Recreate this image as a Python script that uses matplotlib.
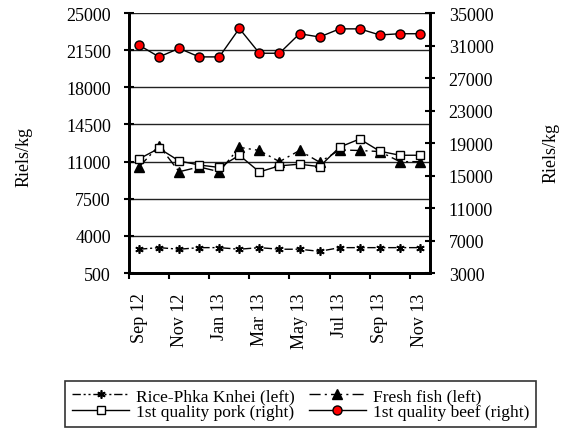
import numpy as np
import matplotlib.pyplot as plt

plt.rcParams['font.family'] = ['Liberation Serif', 'DejaVu Serif']

months = ['Sep 12', 'Oct 12', 'Nov 12', 'Dec 12', 'Jan 13', 'Feb 13', 'Mar 13', 'Apr 13',
          'May 13', 'Jun 13', 'Jul 13', 'Aug 13', 'Sep 13', 'Oct 13', 'Nov 13']

rice = [2750, 2900, 2750, 2900, 2900, 2750, 2900, 2750, 2750, 2550, 2900, 2900, 2900, 2900, 2900]
fish = [10500, 12500, 10050, 10500, 10050, 12350, 12050, 11000, 12050, 10950, 12100, 12050, 11950, 11000, 11000]
pork = [17050, 18350, 16800, 16300, 16000, 17500, 15450, 16200, 16400, 16100, 18500, 19500, 18000, 17500, 17500]
beef = [31050, 29600, 30650, 29600, 29600, 33100, 30050, 30050, 32450, 32050, 33050, 33050, 32300, 32450, 32450]

left_ticks = [500, 4000, 7500, 11000, 14500, 18000, 21500, 25000]
right_ticks = [3000, 7000, 11000, 15000, 19000, 23000, 27000, 31000, 35000]

x = np.arange(len(months))
FS = 13

fig = plt.figure(figsize=(5.62, 4.31), dpi=100)
ax1 = fig.add_axes([0.2295, 0.364, 0.5355, 0.6035])
ax2 = ax1.twinx()

# gridlines on the left scale
for v in left_ticks:
    ax1.axhline(v, color='#222222', lw=1.0, zorder=0)

l_rice, = ax1.plot(x, rice, color='black', lw=1.0, ls=(0, (6, 2, 1.5, 2, 1.5, 2)),
                   marker=(6, 2, 0), ms=6, mew=1.2, label='Rice-Phka Knhei (left)')
l_fish, = ax1.plot(x, fish, color='black', lw=1.0, ls=(0, (8, 3, 1.5, 3)),
                   marker='^', ms=6.5, label='Fresh fish (left)')
l_pork, = ax2.plot(x, pork, color='black', lw=1.0, marker='s', ms=6,
                   mfc='white', mec='black', mew=1.0, label='1st quality pork (right)')
l_beef, = ax2.plot(x, beef, color='black', lw=1.0, marker='o', ms=6.5,
                   mfc='red', mec='black', mew=1.0, label='1st quality beef (right)')

ax1.set_xlim(-0.5, 14.5)
ax1.set_ylim(500, 25000)
ax2.set_ylim(3000, 35000)
ax1.set_yticks(left_ticks)
ax2.set_yticks(right_ticks)

ax1.set_xticks(np.arange(-0.5, 15, 2))
ax1.set_xticklabels([])
ax1.set_xticks(x[::2], minor=True)
ax1.set_xticklabels(months[::2], minor=True, rotation=90, fontsize=FS)
ax1.tick_params(axis='x', which='major', direction='out', length=4, width=1.5)
ax1.tick_params(axis='x', which='minor', length=0, pad=14)
ax1.tick_params(axis='y', direction='inout', length=7, width=1.5, labelsize=FS, pad=9.5)
ax2.tick_params(axis='y', direction='inout', length=7, width=1.5, labelsize=FS, pad=10)

for a in (ax1, ax2):
    a.spines['top'].set_visible(False)
    for s in ('left', 'right', 'bottom'):
        a.spines[s].set_linewidth(2)

fig.text(24 / 562, 1 - 157 / 431, 'Riels/kg', rotation=90, ha='center', va='center', fontsize=FS)
fig.text(551 / 562, 1 - 153 / 431, 'Riels/kg', rotation=90, ha='center', va='center', fontsize=FS)

leg = fig.legend([l_rice, l_pork, l_fish, l_beef],
                 [l.get_label() for l in (l_rice, l_pork, l_fish, l_beef)],
                 loc='upper left', bbox_to_anchor=(65 / 562, 1 - 382 / 431), ncol=2, fontsize=12.5,
                 frameon=True, fancybox=False, edgecolor='black', handlelength=3.3,
                 columnspacing=0.8, handletextpad=0.4, borderpad=0.4, borderaxespad=0,
                 labelspacing=0.0)
leg.get_frame().set_linewidth(1.2)

fig.savefig('out.png', dpi=100)
